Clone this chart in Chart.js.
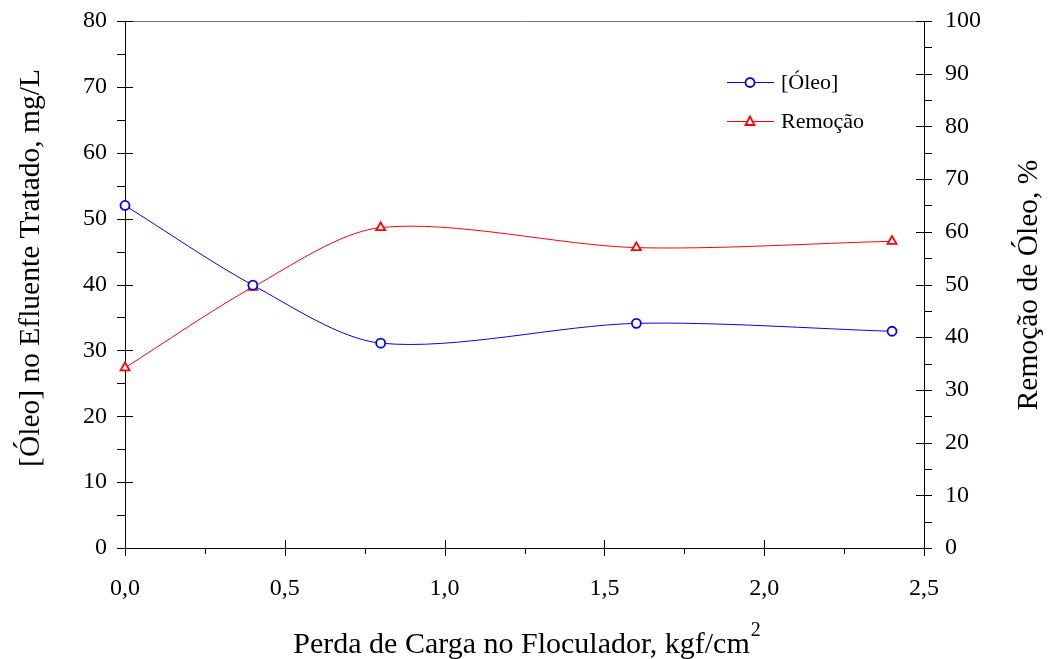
<!DOCTYPE html>
<html>
<head>
<meta charset="utf-8">
<script src="https://cdn.jsdelivr.net/npm/chart.js@4.4.1/dist/chart.umd.min.js"></script>
<style>
  html, body { margin: 0; padding: 0; background: #fff; }
  #wrap { width: 1048px; height: 659px; }
</style>
</head>
<body>
<div id="wrap"><canvas id="chart" width="1048" height="659"></canvas></div>
<script>
// data
const perdaCarga = [0, 0.4, 0.8, 1.6, 2.4];          // kgf/cm2
const oleoEfluente = [52.0, 39.9, 31.1, 34.1, 32.9];  // mg/L (left axis)
const remocaoOleo = [34.2, 49.5, 60.8, 57.0, 58.2];   // % (right axis)

const xTicks = [0, 0.5, 1.0, 1.5, 2.0, 2.5];
const leftTicks = [0, 10, 20, 30, 40, 50, 60, 70, 80];
const rightTicks = [0, 10, 20, 30, 40, 50, 60, 70, 80, 90, 100];

const FONT = "'Liberation Serif', 'Times New Roman', serif";

// custom axis decoration: crossing major ticks, minor ticks, titles, legend
const decorPlugin = {
  id: 'decor',
  beforeDatasetsDraw(chart) {
    const ctx = chart.ctx;
    const area = chart.chartArea;
    const x = chart.scales.x, y = chart.scales.y, y1 = chart.scales.y1;
    ctx.save();

    // top frame line
    ctx.strokeStyle = '#777';
    ctx.lineWidth = 1;
    ctx.beginPath();
    ctx.moveTo(area.left, area.top + 0.5);
    ctx.lineTo(area.right, area.top + 0.5);
    ctx.stroke();

    ctx.strokeStyle = '#000';
    ctx.beginPath();
    // x axis ticks
    for (let v = 0; v <= 2.5001; v += 0.25) {
      const px = Math.round(x.getPixelForValue(v)) + 0.5;
      const major = Math.abs(v / 0.5 - Math.round(v / 0.5)) < 1e-6;
      if (major) { ctx.moveTo(px, area.bottom - 8); ctx.lineTo(px, area.bottom + 8); }
      else { ctx.moveTo(px, area.bottom); ctx.lineTo(px, area.bottom + 6); }
    }
    // left axis ticks
    for (let v = 0; v <= 80; v += 5) {
      const py = Math.round(y.getPixelForValue(v)) + 0.5;
      if (v % 10 === 0) { ctx.moveTo(area.left - 8, py); ctx.lineTo(area.left + 8, py); }
      else { ctx.moveTo(area.left - 8, py); ctx.lineTo(area.left, py); }
    }
    // right axis ticks
    for (let v = 0; v <= 100; v += 5) {
      const py = Math.round(y1.getPixelForValue(v)) + 0.5;
      if (v % 10 === 0) { ctx.moveTo(area.right - 8, py); ctx.lineTo(area.right + 8, py); }
      else { ctx.moveTo(area.right, py); ctx.lineTo(area.right + 8, py); }
    }
    ctx.stroke();

    // axis titles
    ctx.fillStyle = '#000';
    ctx.font = '29.5px ' + FONT;
    ctx.textAlign = 'center';
    ctx.textBaseline = 'alphabetic';
    ctx.save();
    ctx.translate(39, 268);
    ctx.rotate(-Math.PI / 2);
    ctx.fillText('[Óleo] no Efluente Tratado, mg/L', 0, 0);
    ctx.restore();
    ctx.save();
    ctx.translate(1037, 285);
    ctx.rotate(-Math.PI / 2);
    ctx.fillText('Remoção de Óleo, %', 0, 0);
    ctx.restore();

    ctx.font = '30px ' + FONT;
    const xt = 'Perda de Carga no Floculador, kgf/cm';
    const w = ctx.measureText(xt).width;
    ctx.font = '20px ' + FONT;
    const w2 = ctx.measureText('2').width;
    const cx = (area.left + area.right) / 2 + 2;
    const startX = cx - (w + w2) / 2;
    ctx.font = '30px ' + FONT;
    ctx.textAlign = 'left';
    ctx.fillText(xt, startX, 653);
    ctx.font = '20px ' + FONT;
    ctx.fillText('2', startX + w + 1, 636);

    // legend
    const items = chart.data.datasets;
    const rows = [82, 121];
    ctx.font = '22px ' + FONT;
    ctx.textBaseline = 'middle';
    items.forEach((ds, i) => {
      const ly = rows[i] + 0.5;
      ctx.strokeStyle = ds.borderColor;
      ctx.lineWidth = 1;
      ctx.beginPath();
      ctx.moveTo(727, ly);
      ctx.lineTo(774, ly);
      ctx.stroke();
      ctx.lineWidth = 1.8;
      ctx.fillStyle = '#fff';
      ctx.beginPath();
      if (ds.pointStyle === 'triangle') {
        ctx.moveTo(750, ly - 5);
        ctx.lineTo(754.5, ly + 3.5);
        ctx.lineTo(745.5, ly + 3.5);
        ctx.closePath();
      } else {
        ctx.arc(750, ly, 4.5, 0, Math.PI * 2);
      }
      ctx.fill();
      ctx.stroke();
      ctx.fillStyle = '#000';
      ctx.fillText(ds.label, 781, ly + 1);
    });
    ctx.restore();
  }
};

new Chart(document.getElementById('chart'), {
  type: 'line',
  data: {
    datasets: [
      {
        label: '[Óleo]',
        data: perdaCarga.map((v, i) => ({ x: v, y: oleoEfluente[i] })),
        yAxisID: 'y',
        borderColor: '#0000ff',
        borderWidth: 1,
        pointStyle: 'circle',
        pointRadius: 4.5,
        pointBorderWidth: 1.8,
        pointBackgroundColor: '#fff',
        pointBorderColor: '#0000ff',
        tension: 0.3,
        clip: false,
        fill: false
      },
      {
        label: 'Remoção',
        data: perdaCarga.map((v, i) => ({ x: v, y: remocaoOleo[i] })),
        yAxisID: 'y1',
        borderColor: '#ff0000',
        borderWidth: 1,
        pointStyle: 'triangle',
        pointRadius: 5.2,
        pointBorderWidth: 1.8,
        pointBackgroundColor: '#fff',
        pointBorderColor: '#ff0000',
        tension: 0.3,
        clip: false,
        fill: false
      }
    ]
  },
  options: {
    responsive: false,
    animation: false,
    events: [],
    layout: { padding: { top: 21, left: 0, right: 0, bottom: 0 } },
    plugins: {
      legend: { display: false },
      tooltip: { enabled: false }
    },
    scales: {
      x: {
        type: 'linear',
        min: 0,
        max: 2.5,
        afterFit(scale) { scale.height = 111; scale.paddingLeft = 0; scale.paddingRight = 0; },
        afterBuildTicks(scale) { scale.ticks = xTicks.map(v => ({ value: v })); },
        grid: { display: false, drawTicks: false },
        border: { display: true, color: '#000', width: 1 },
        ticks: {
          padding: 26,
          color: '#000',
          font: { family: FONT, size: 24 },
          maxRotation: 0,
          callback: v => v.toFixed(1).replace('.', ',')
        }
      },
      y: {
        position: 'left',
        min: 0,
        max: 80,
        afterFit(scale) { scale.width = 125; scale.paddingTop = 0; scale.paddingBottom = 0; },
        afterBuildTicks(scale) { scale.ticks = leftTicks.map(v => ({ value: v })); },
        grid: { display: false, drawTicks: false },
        border: { display: true, color: '#000', width: 1 },
        ticks: {
          padding: 18,
          color: '#000',
          font: { family: FONT, size: 24 }
        }
      },
      y1: {
        position: 'right',
        min: 0,
        max: 100,
        afterFit(scale) { scale.width = 124; scale.paddingTop = 0; scale.paddingBottom = 0; },
        afterBuildTicks(scale) { scale.ticks = rightTicks.map(v => ({ value: v })); },
        grid: { display: false, drawTicks: false },
        border: { display: true, color: '#000', width: 1 },
        ticks: {
          padding: 21,
          color: '#000',
          font: { family: FONT, size: 24 }
        }
      }
    }
  },
  plugins: [decorPlugin]
});
</script>
</body>
</html>
